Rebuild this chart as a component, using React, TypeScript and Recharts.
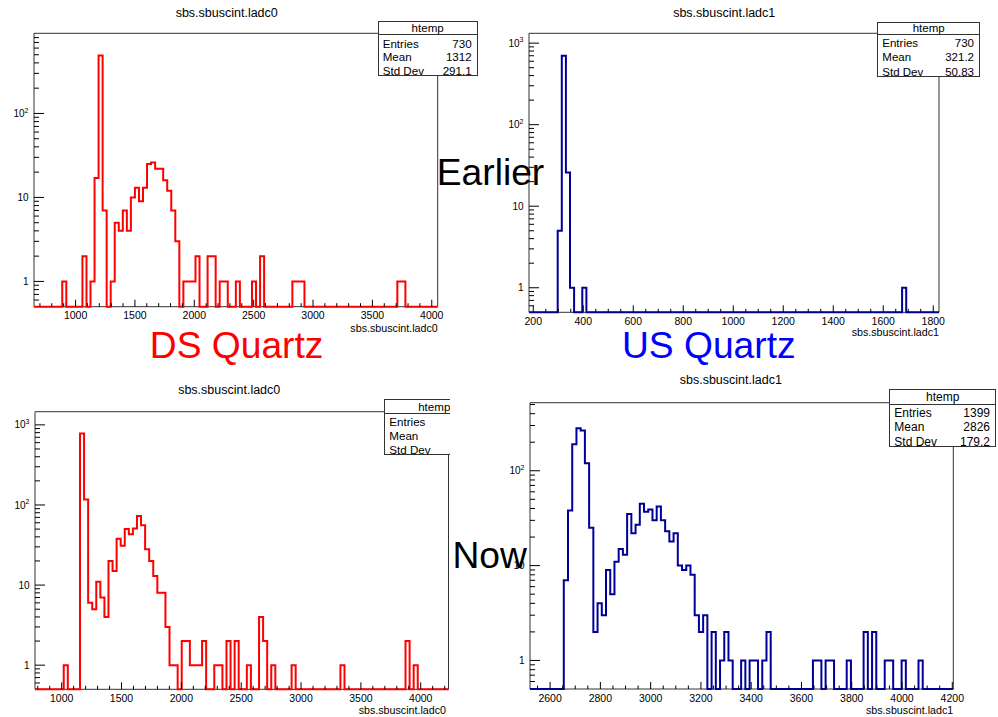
import React from 'react';
import { LineChart, Line, XAxis, YAxis, ReferenceArea } from 'recharts';

const FONT = '"Liberation Sans", Arial, Helvetica, sans-serif';
const PAGE_W = 998;
const PAGE_H = 717;
const RED = '#ff0000';
const NAVY = '#000099';

// ---------- data (bin index, counts) ----------
// Earlier, DS quartz (sbs.sbuscint.ladc0)
const dsEarlyBins = [7, 12, 14, 15, 16, 17, 19, 20, 21, 22, 23, 24, 25, 26, 27, 28, 29, 30, 31, 32, 33, 34, 35, 37, 38, 39, 40, 43, 44, 46, 47, 50, 54, 56, 64, 65, 66, 90, 91];
const dsEarlyCounts = [1, 2, 1, 17, 490, 7, 1, 5, 4, 7, 4, 10, 13, 9, 13, 25, 26, 22, 22, 16, 12, 7, 3, 1, 1, 1, 2, 2, 2, 1, 1, 1, 1, 2, 1, 1, 1, 1, 1];

// Earlier, US quartz (sbs.sbuscint.ladc1)
const usEarlyBins = [7, 8, 9, 10, 13, 91];
const usEarlyCounts = [5, 700, 26, 1, 1, 1];

// Now, DS quartz
const dsNowBins = [7, 11, 12, 13, 14, 15, 16, 17, 18, 19, 20, 21, 22, 23, 24, 25, 26, 27, 28, 29, 30, 31, 32, 33, 34, 36, 37, 38, 39, 40, 41, 44, 45, 47, 49, 52, 55, 56, 58, 63, 75, 91, 93];
const dsNowCounts = [1, 780, 117, 6, 5, 11, 7, 4, 20, 15, 38, 31, 50, 43, 51, 73, 56, 28, 20, 13, 8, 8, 3, 1, 1, 2, 2, 1, 1, 1, 2, 1, 1, 2, 2, 1, 4, 2, 1, 1, 1, 2, 1];

// Now, US quartz
const usNowBins = [8, 9, 10, 11, 12, 13, 14, 15, 16, 17, 18, 19, 20, 21, 22, 23, 24, 25, 26, 27, 28, 29, 30, 31, 32, 33, 34, 35, 36, 37, 38, 39, 40, 41, 43, 45, 46, 47, 50, 52, 53, 55, 56, 67, 68, 70, 71, 75, 79, 81, 84, 85, 88, 92];
const usNowCounts = [7, 38, 190, 280, 265, 120, 25, 2, 4, 3, 9, 5, 11, 15, 13, 35, 22, 27, 45, 37, 39, 30, 42, 30, 23, 18, 22, 10, 9, 10, 8, 3, 2, 3, 2, 1, 2, 1, 1, 1, 1, 1, 2, 1, 1, 1, 1, 1, 2, 2, 1, 1, 1, 1];

// tick labels
const dsXLabels = [1000, 1500, 2000, 2500, 3000, 3500, 4000];
const usEarlyXLabels = [200, 400, 600, 800, 1000, 1200, 1400, 1600, 1800];
const usNowXLabels = [2600, 2800, 3000, 3200, 3400, 3600, 3800, 4000, 4200];
const statLabels = ['Entries', 'Mean', 'Std Dev'];
const dsEarlyStats = ['730', '1312', '291.1'];
const usEarlyStats = ['730', '321.2', '50.83'];
const dsNowStats = ['1399', '1332', '286.9'];
const usNowStats = ['1399', '2826', '179.2'];

type Frame = { L: number; T: number; R: number; B: number };
type Box = { left: number; top: number; width: number; height: number; headerH: number; firstRow: number; rowH: number; fs: number };

interface PanelSpec {
  frame: Frame;
  xDomain: [number, number];
  yDomain: [number, number];
  binStart: number;
  binWidth: number;
  bins: number[];
  counts: number[];
  color: string;
  xMajors: number[];
  xMinorStep: number;
  yMajors: number[];
  clipRight?: number;
  box: Box;
  stats: string[];
}

function buildSteps(start: number, width: number, bins: number[], counts: number[], xDomain: [number, number], floor: number) {
  const pts: { x: number; y: number }[] = [{ x: xDomain[0], y: floor }];
  bins.forEach((b, i) => {
    const lo = start + b * width;
    pts.push({ x: lo, y: counts[i] });
    if (i === bins.length - 1 || bins[i + 1] !== b + 1) pts.push({ x: lo + width, y: floor });
  });
  pts.push({ x: xDomain[1], y: floor });
  return pts;
}

function linTicks(lo: number, hi: number, step: number) {
  const out: number[] = [];
  for (let v = Math.ceil(lo / step) * step; v <= hi; v += step) out.push(v);
  return out;
}

function logTicks(lo: number, hi: number) {
  const out: number[] = [];
  for (let e = -1; e <= 3; e++) {
    for (let m = 1; m <= 9; m++) {
      const v = Number((m * Math.pow(10, e)).toPrecision(3));
      if (v > lo && v < hi) out.push(v);
    }
  }
  return out;
}

function YLabel({ x, y, v }: { x: number; y: number; v: number }) {
  if (v === 1 || v === 10) {
    return (
      <text x={x} y={y + 3.6} textAnchor="end" fontSize={10} fontFamily={FONT} fill="#000">
        {String(v)}
      </text>
    );
  }
  const sup = String(Math.round(Math.log10(v)));
  return (
    <text x={x} y={y + 3.6} textAnchor="end" fontSize={10} fontFamily={FONT} fill="#000">
      10
      <tspan dy={-4.5} fontSize={7}>
        {sup}
      </tspan>
    </text>
  );
}

function StatsBox({ box, values }: { box: Box; values: string[] }) {
  return (
    <div
      style={{
        position: 'absolute',
        left: box.left,
        top: box.top,
        width: box.width,
        height: box.height,
        border: '1px solid #333',
        background: '#fff',
        boxSizing: 'border-box',
        fontFamily: FONT,
        fontSize: box.fs,
        color: '#000',
      }}
    >
      <div
        style={{
          position: 'absolute',
          left: 0,
          right: 0,
          top: 0,
          height: box.headerH,
          lineHeight: `${box.headerH}px`,
          textAlign: 'center',
          borderBottom: '1px solid #333',
        }}
      >
        htemp
      </div>
      {statLabels.map((lab, i) => (
        <div
          key={lab}
          style={{
            position: 'absolute',
            left: 4,
            right: 5,
            top: box.headerH + box.firstRow - box.rowH / 2 + i * box.rowH,
            height: box.rowH,
            lineHeight: `${box.rowH}px`,
            display: 'flex',
            justifyContent: 'space-between',
            whiteSpace: 'nowrap',
          }}
        >
          <span>{lab}</span>
          <span>{values[i]}</span>
        </div>
      ))}
    </div>
  );
}

function HistPanel({ spec }: { spec: PanelSpec }) {
  const { frame, xDomain, yDomain } = spec;
  const data = buildSteps(spec.binStart, spec.binWidth, spec.bins, spec.counts, xDomain, yDomain[0]);
  const yw = 30;
  const xh = 30;
  const margin = {
    left: frame.L - yw,
    top: frame.T,
    right: PAGE_W - frame.R,
    bottom: PAGE_H - frame.B - xh,
  };
  const xTicks = linTicks(xDomain[0], xDomain[1], spec.xMinorStep).filter((v) => v > xDomain[0] && v < xDomain[1]);
  const yTicks = logTicks(yDomain[0], yDomain[1]);

  const xTick = (p: any) => {
    const x = p.x;
    const v = p.payload.value;
    const major = spec.xMajors.includes(v);
    return (
      <g>
        <line x1={x} x2={x} y1={frame.B} y2={frame.B - (major ? 7 : 3.5)} stroke="#000" strokeWidth={1} />
        {major && (
          <text x={x} y={frame.B + 12.5} textAnchor="middle" fontSize={10.5} fontFamily={FONT} fill="#000">
            {String(v)}
          </text>
        )}
      </g>
    );
  };
  const yTick = (p: any) => {
    const y = p.y;
    const v = p.payload.value;
    const major = spec.yMajors.includes(v);
    return (
      <g>
        <line x1={frame.L} x2={frame.L + (major ? 10 : 5)} y1={y} y2={y} stroke="#000" strokeWidth={1} />
        {major && <YLabel x={frame.L - 5.5} y={y} v={v} />}
      </g>
    );
  };

  return (
    <div
      style={{
        position: 'absolute',
        left: 0,
        top: 0,
        width: spec.clipRight ?? PAGE_W,
        height: PAGE_H,
        overflow: 'hidden',
      }}
    >
      <LineChart width={PAGE_W} height={PAGE_H} data={data} margin={margin}>
        <XAxis
          type="number"
          dataKey="x"
          domain={xDomain}
          ticks={xTicks}
          interval={0}
          axisLine={false}
          tickLine={false}
          height={xh}
          tick={xTick}
        />
        <YAxis
          type="number"
          scale="log"
          domain={yDomain}
          ticks={yTicks}
          interval={0}
          axisLine={false}
          tickLine={false}
          width={yw}
          tick={yTick}
        />
        <ReferenceArea
          x1={xDomain[0]}
          x2={xDomain[1]}
          y1={yDomain[0]}
          y2={yDomain[1]}
          fill="none"
          stroke="#333"
          strokeWidth={1}
          ifOverflow="visible"
        />
        <Line
          type="stepAfter"
          dataKey="y"
          stroke={spec.color}
          strokeWidth={2}
          dot={false}
          activeDot={false}
          isAnimationActive={false}
        />
      </LineChart>
      <StatsBox box={spec.box} values={spec.stats} />
    </div>
  );
}

const panels: PanelSpec[] = [
  {
    frame: { L: 34, T: 33.3, R: 437.7, B: 306.7 },
    xDomain: [650, 4050],
    yDomain: [0.5, 900],
    binStart: 650,
    binWidth: 34,
    bins: dsEarlyBins,
    counts: dsEarlyCounts,
    color: RED,
    xMajors: dsXLabels,
    xMinorStep: 100,
    yMajors: [1, 10, 100],
    box: { left: 377.7, top: 21, width: 100, height: 55, headerH: 12.3, firstRow: 9, rowH: 13.5, fs: 11.6 },
    stats: dsEarlyStats,
  },
  {
    frame: { L: 529, T: 33.3, R: 939, B: 312.3 },
    xDomain: [183, 1823],
    yDomain: [0.5, 1320],
    binStart: 183,
    binWidth: 16.4,
    bins: usEarlyBins,
    counts: usEarlyCounts,
    color: NAVY,
    xMajors: usEarlyXLabels,
    xMinorStep: 50,
    yMajors: [1, 10, 100, 1000],
    box: { left: 877.3, top: 21.7, width: 102.7, height: 55.6, headerH: 11.6, firstRow: 9, rowH: 14.2, fs: 11.5 },
    stats: usEarlyStats,
  },
  {
    frame: { L: 35, T: 411.7, R: 448.5, B: 689.3 },
    xDomain: [777, 4232],
    yDomain: [0.5, 1460],
    binStart: 779,
    binWidth: 34,
    bins: dsNowBins,
    counts: dsNowCounts,
    color: RED,
    xMajors: dsXLabels,
    xMinorStep: 100,
    yMajors: [1, 10, 100, 1000],
    clipRight: 449.5,
    box: { left: 384.3, top: 399.3, width: 100, height: 55.7, headerH: 13, firstRow: 8.4, rowH: 14.1, fs: 11.6 },
    stats: dsNowStats,
  },
  {
    frame: { L: 530, T: 402.7, R: 953.3, B: 689 },
    xDomain: [2520, 4204],
    yDomain: [0.5, 522],
    binStart: 2520,
    binWidth: 16.8,
    bins: usNowBins,
    counts: usNowCounts,
    color: NAVY,
    xMajors: usNowXLabels,
    xMinorStep: 50,
    yMajors: [1, 10, 100],
    box: { left: 889.3, top: 389.3, width: 106.7, height: 58, headerH: 14, firstRow: 9, rowH: 14.2, fs: 12 },
    stats: usNowStats,
  },
];

const titles = [
  { text: 'sbs.sbuscint.ladc0', x: 226.7, y: 17.3 },
  { text: 'sbs.sbuscint.ladc1', x: 724.2, y: 16.5 },
  { text: 'sbs.sbuscint.ladc0', x: 229.2, y: 394 },
  { text: 'sbs.sbuscint.ladc1', x: 730.8, y: 384 },
];
const axisTitles = [
  { text: 'sbs.sbuscint.ladc0', x: 437.7, y: 331.5 },
  { text: 'sbs.sbuscint.ladc1', x: 939, y: 335.5 },
  { text: 'sbs.sbuscint.ladc0', x: 446, y: 713.5 },
  { text: 'sbs.sbuscint.ladc1', x: 953.3, y: 714 },
];
const bigLabels = [
  { text: 'Earlier', x: 436.8, y: 185, color: '#000' },
  { text: 'Now', x: 452.5, y: 568.3, color: '#000' },
  { text: 'DS Quartz', x: 149.8, y: 358, color: '#ff0000' },
  { text: 'US Quartz', x: 622, y: 358, color: '#0000ff' },
];

export default function App() {
  return (
    <div
      style={{
        position: 'absolute',
        left: 0,
        top: 0,
        width: PAGE_W,
        height: PAGE_H,
        background: '#fff',
        overflow: 'hidden',
        fontFamily: FONT,
      }}
    >
      {panels.map((p, i) => (
        <HistPanel key={i} spec={p} />
      ))}
      <svg
        width={PAGE_W}
        height={PAGE_H}
        style={{ position: 'absolute', left: 0, top: 0, pointerEvents: 'none' }}
      >
        {titles.map((t, i) => (
          <text key={'t' + i} x={t.x} y={t.y} textAnchor="middle" fontSize={12.5} fontFamily={FONT} fill="#000">
            {t.text}
          </text>
        ))}
        {axisTitles.map((t, i) => (
          <text key={'a' + i} x={t.x} y={t.y} textAnchor="end" fontSize={10.7} fontFamily={FONT} fill="#000">
            {t.text}
          </text>
        ))}
        {bigLabels.map((t, i) => (
          <text key={'b' + i} x={t.x} y={t.y} fontSize={37.2} fontFamily={FONT} fill={t.color}>
            {t.text}
          </text>
        ))}
      </svg>
    </div>
  );
}
